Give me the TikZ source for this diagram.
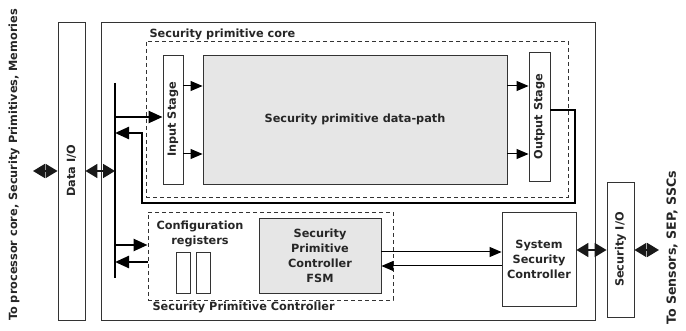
\documentclass[tikz,border=0pt]{standalone}
\usepackage{fontspec}
\setmainfont{DejaVu Sans}
\usepackage{tikz}
\usetikzlibrary{shapes,arrows.meta}
\definecolor{boxline}{HTML}{333333}
\definecolor{boxfill}{HTML}{E6E6E6}
\tikzset{
  blk/.style={draw=boxline, line width=0.9pt, inner sep=0pt, align=center},
  dashblk/.style={draw=boxline, line width=0.9pt, dash pattern=on 4pt off 3pt, inner sep=0pt},
  thinarr/.style={line width=1pt, -{Triangle[length=12pt,width=10pt]}},
  thickarr/.style={line width=2.4pt, -{Triangle[length=14pt,width=12pt]}},
  biarr/.style={line width=1.8pt, {Triangle[length=12pt,width=14pt]}-{Triangle[length=12pt,width=14pt]}, draw=black!90},
}
\begin{document}
\begin{tikzpicture}[x=1pt,y=-1pt,every node/.style={font=\bfseries\fontsize{11.3}{15}\selectfont, text=black!85}]
\useasboundingbox (0,0) rectangle (686,331);
\node[blk, minimum width=494, minimum height=298](outer) at (348,171){} ;
\node[blk, minimum width=27, minimum height=298](dataio) at (71.5,171){} ;
\node[rotate=90](dataiotxt) at (dataio.center){Data I/O} ;
\node[rotate=90](proctxt) at (14,165){To processor core, Security Primitives, Memories} ;
\node[rotate=90, font=\bfseries\fontsize{12.6}{15}\selectfont](senstxt) at (672,248){To Sensors, SEP, SSCs} ;
\node[dashblk, minimum width=422, minimum height=156](core) at (357,119){} ;
\node[anchor=base west](coretxt) at (146,38){Security primitive core} ;
\node[blk, minimum width=20, minimum height=129](inst) at (173,119.5){} ;
\node[rotate=90](insttxt) at (inst.center){Input Stage} ;
\node[blk, fill=boxfill, minimum width=304, minimum height=129](dpath) at (355,119.5){Security primitive data-path} ;
\node[blk, minimum width=21, minimum height=129](outst) at (539.5,116.5){} ;
\node[rotate=90](outsttxt) at (outst.center){Output Stage} ;
\node[dashblk, minimum width=245, minimum height=88](spc) at (270.5,256){} ;
\node[anchor=base west](spctxt) at (149,311){Security Primitive Controller} ;
\node[align=center](cfgtxt) at (200,234){Configuration\\registers} ;
\node[blk, minimum width=14, minimum height=41](reg1) at (183,272.5){} ;
\node[blk, minimum width=14, minimum height=41](reg2) at (203,272.5){} ;
\node[blk, fill=boxfill, minimum width=122, minimum height=75](fsm) at (320,255.5){Security\\Primitive\\Controller\\FSM} ;
\node[blk, minimum width=74, minimum height=94](ssc) at (539,259){System\\Security\\Controller} ;
\node[blk, minimum width=27, minimum height=135](secio) at (620.5,249.5){} ;
\node[rotate=90](seciotxt) at (secio.center){Security I/O} ;
\coordinate(busT) at (115,83) ;
\coordinate(busB) at (115,278) ;
\coordinate(lft) at (33,171) ;
\coordinate(rgt) at (659,250) ;
\coordinate(fbA) at (575,110) ;
\coordinate(fbB) at (575,203) ;
\coordinate(fbC) at (142,203) ;
\coordinate(fbD) at (142,133) ;
\draw[line width=2.6pt](busT) -- (busB);
\draw[biarr](lft) -- (dataio.west);
\draw[biarr](dataio.east) -- (dataio.east -| busT);
\draw[thickarr](busT |- 0,117) -- (inst.west |- 0,117);
\draw[thinarr](inst.east |- 0,86) -- (dpath.west |- 0,86);
\draw[thinarr](inst.east |- 0,154) -- (dpath.west |- 0,154);
\draw[thinarr](dpath.east |- 0,86) -- (outst.west |- 0,86);
\draw[thinarr](dpath.east |- 0,154) -- (outst.west |- 0,154);
\draw[thickarr](outst.east |- fbA) -- (fbA) -- (fbB) -- (fbC) -- (fbD) -- (busT |- fbD);
\draw[thickarr](busT |- 0,245) -- (spc.west |- 0,245);
\draw[thickarr](spc.west |- 0,262) -- (busT |- 0,262);
\draw[thinarr](fsm.east |- 0,252) -- (ssc.west |- 0,252);
\draw[thinarr](ssc.west |- 0,266) -- (fsm.east |- 0,266);
\draw[biarr](ssc.east |- rgt) -- (secio.west |- rgt);
\draw[biarr](secio.east |- rgt) -- (rgt);
\end{tikzpicture}
\end{document}
